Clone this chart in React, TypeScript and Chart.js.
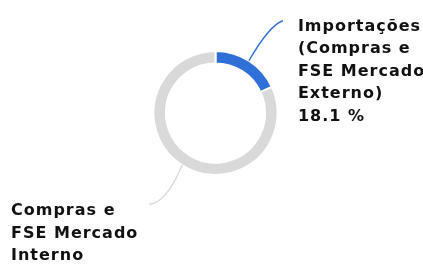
import React, { useEffect, useRef } from "react";
import { Chart, registerables } from "chart.js";

Chart.register(...registerables);

const categories = ["Importações (Compras e FSE Mercado Externo)", "Compras e FSE Mercado Interno"];
const values = [18.1, 81.9];
const colors = ["#2f6fd8", "#d9d9d9"];
const labelLines = [
  ["Importações", "(Compras e", "FSE Mercado", "Externo)", "18.1 %"],
  ["Compras e", "FSE Mercado", "Interno"],
];

const FONT = "bold 16px 'DejaVu Sans'";
const LINE_H = 22.5;

const leaderPlugin = {
  id: "leaders",
  afterDraw(chart: any) {
    const ctx = chart.ctx;
    const meta = chart.getDatasetMeta(0);
    ctx.save();
    meta.data.forEach((arc: any, i: number) => {
      const { x, y, startAngle, endAngle, outerRadius } = arc.getProps(
        ["x", "y", "startAngle", "endAngle", "outerRadius"],
        true
      );
      const mid = (startAngle + endAngle) / 2;
      const px = x + Math.cos(mid) * outerRadius;
      const py = y + Math.sin(mid) * outerRadius;
      const right = Math.cos(mid) >= 0;
      let ex: number, ey: number, cx: number, cy: number, tx: number, ty: number;
      if (right) {
        ex = px + 34;
        ey = py - 40;
        cx = px + 21;
        cy = py - 36;
        tx = ex + 15;
        ty = ey + 10;
      } else {
        ex = px - 33;
        ey = py + 39;
        cx = px - 16;
        cy = py + 38;
        tx = 11;
        ty = ey + 11;
      }
      ctx.beginPath();
      ctx.moveTo(px, py);
      ctx.quadraticCurveTo(cx, cy, ex, ey);
      ctx.strokeStyle = colors[i];
      ctx.lineWidth = 1.4;
      ctx.stroke();

      ctx.fillStyle = "#111111";
      ctx.font = FONT;
      (ctx as any).letterSpacing = "1px";
      ctx.textAlign = "left";
      ctx.textBaseline = "alphabetic";
      labelLines[i].forEach((line, k) => {
        ctx.fillText(line, tx, ty + k * LINE_H);
      });
    });
    ctx.restore();
  },
};

export default function App() {
  const ref = useRef<HTMLCanvasElement>(null);
  useEffect(() => {
    document.body.style.margin = "0";
    const chart = new Chart(ref.current!, {
      type: "doughnut",
      data: {
        labels: categories,
        datasets: [
          {
            data: values,
            backgroundColor: colors,
            borderColor: "#ffffff",
            borderWidth: 2,
          },
        ],
      },
      options: {
        animation: false,
        responsive: false,
        cutout: "80%",
        layout: { padding: { top: 50, bottom: 90, left: 8, right: 0 } },
        plugins: { legend: { display: false }, tooltip: { enabled: false } },
      },
      plugins: [leaderPlugin],
    });
    return () => chart.destroy();
  }, []);
  return (
    <div style={{ width: 423, height: 266 }}>
      <canvas ref={ref} width={423} height={266} style={{ display: "block" }} />
    </div>
  );
}
